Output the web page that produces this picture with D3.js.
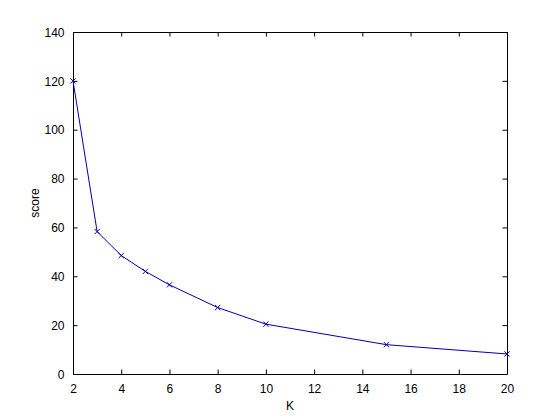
<!DOCTYPE html>
<html><head><meta charset="utf-8">
<script src="https://cdn.jsdelivr.net/npm/d3@7"></script>
<style>body{margin:0;background:#fff}svg{display:block}text{font-family:"Liberation Sans",Arial,sans-serif;font-size:12px;fill:#000}</style>
</head><body>
<script>
const kValues = [2, 3, 4, 5, 6, 8, 10, 15, 20];
const scores = [120, 58.3, 48.5, 42, 36.5, 27.2, 20.4, 12, 8.2];
const xTicks = [2, 4, 6, 8, 10, 12, 14, 16, 18, 20];
const yTicks = [0, 20, 40, 60, 80, 100, 120, 140];
const xLabel = "K", yLabel = "score";

const W = 560, H = 420;
const L = 73, R = 507, T = 32, B = 374;
const svg = d3.select("body").append("svg").attr("width", W).attr("height", H);
svg.append("rect").attr("width", W).attr("height", H).attr("fill", "#fff");
const x = d3.scaleLinear().domain([2, 20]).range([L, R]);
const y = d3.scaleLinear().domain([0, 140]).range([B, T]);
const tl = 4.5;

const axB = svg.append("g").attr("transform", `translate(0,${B})`)
  .call(d3.axisBottom(x).tickValues(xTicks).tickSize(-tl).tickPadding(tl + 6).tickSizeOuter(0));
const axT = svg.append("g").attr("transform", `translate(0,${T})`)
  .call(d3.axisTop(x).tickValues(xTicks).tickSize(-tl).tickFormat("").tickSizeOuter(0));
const axL = svg.append("g").attr("transform", `translate(${L},0)`)
  .call(d3.axisLeft(y).tickValues(yTicks).tickSize(-tl).tickPadding(tl + 4).tickSizeOuter(0));
const axR = svg.append("g").attr("transform", `translate(${R},0)`)
  .call(d3.axisRight(y).tickValues(yTicks).tickSize(-tl).tickFormat("").tickSizeOuter(0));
[axB, axT, axL, axR].forEach(g => {
  g.selectAll("path.domain").attr("stroke", "#000").attr("stroke-width", 1);
  g.selectAll(".tick line").attr("stroke", "#000");
  g.selectAll("text").attr("font-family", null).attr("font-size", null).attr("fill", "#000");
});
axL.selectAll("text").attr("dy", "0.35em");

const line = d3.line().x((d, i) => x(kValues[i])).y(d => y(d));
svg.append("path").datum(scores).attr("d", line)
  .attr("fill", "none").attr("stroke", "#0000b0").attr("stroke-width", 1);
const s = 2.6;
svg.append("g").selectAll("path").data(scores).join("path")
  .attr("d", (d, i) => { const cx = x(kValues[i]), cy = y(d);
    return `M${cx-s},${cy-s}L${cx+s},${cy+s}M${cx-s},${cy+s}L${cx+s},${cy-s}`; })
  .attr("stroke", "#0000b0").attr("stroke-width", 1).attr("fill", "none");

svg.append("text").attr("x", (L + R) / 2).attr("y", 410).attr("text-anchor", "middle").text(xLabel);
svg.append("text").attr("transform", `translate(39,${(T + B) / 2}) rotate(-90)`)
  .attr("text-anchor", "middle").text(yLabel);
</script>
</body></html>
